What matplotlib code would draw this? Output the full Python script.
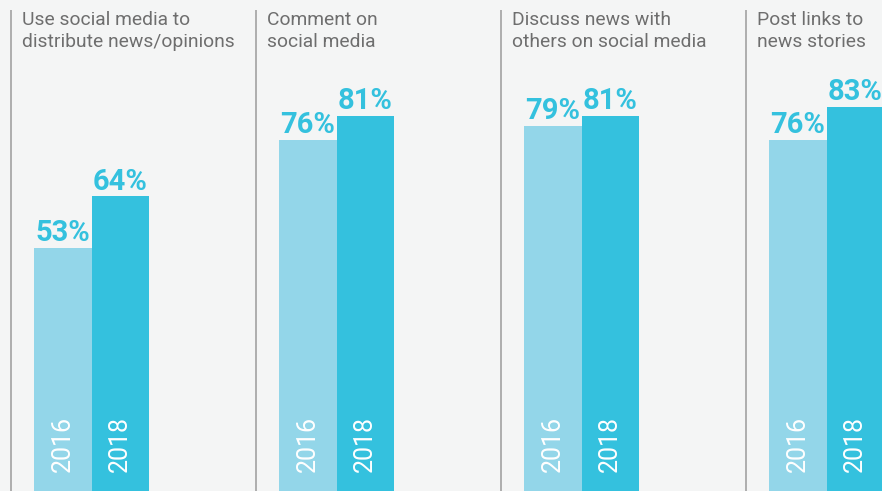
import numpy as np
import matplotlib.pyplot as plt

titles = ["Use social media to\ndistribute news/opinions",
          "Comment on\nsocial media",
          "Discuss news with\nothers on social media",
          "Post links to\nnews stories"]
years = ["2016", "2018"]
share_2016 = [53, 76, 79, 76]
share_2018 = [64, 81, 81, 83]

bg = "#f4f5f5"
light = "#93d6e9"
dark = "#34c1de"

fig = plt.figure(figsize=(8.82, 4.91), dpi=100, facecolor=bg)
ax = fig.add_axes([0, 0, 1, 1], facecolor=bg)
ax.set_xlim(0, 882)
ax.set_ylim(1.5, 105.7)
ax.axis("off")

panel_w = 245
bar_w = 57.5
for i, title in enumerate(titles):
    x0 = 11 + panel_w * i
    ax.plot([x0, x0], [-5, 103.6], color="#a8a8a8", lw=1.3, solid_capstyle="butt")
    ax.text(x0 + 11, 103.4, title, ha="left", va="top", fontsize=13.9,
            color="#6e6e6e", family="Roboto", linespacing=1.27)
    for j, (vals, col) in enumerate([(share_2016, light), (share_2018, dark)]):
        xl = x0 + 23 + j * bar_w
        v = vals[i]
        ax.bar(xl, v, width=bar_w, align="edge", color=col, linewidth=0)
        ax.text(xl + bar_w / 2, v + 0.2, f"{v}%", ha="center", va="bottom",
                fontsize=21, fontweight="bold", color=dark, family="Roboto")
        ax.text(xl + bar_w / 2, 5.5, years[j], ha="center", va="bottom",
                rotation=90, fontsize=18, fontweight="normal", color="white",
                family="Roboto")

fig.savefig("out.png", dpi=100, facecolor=bg)
